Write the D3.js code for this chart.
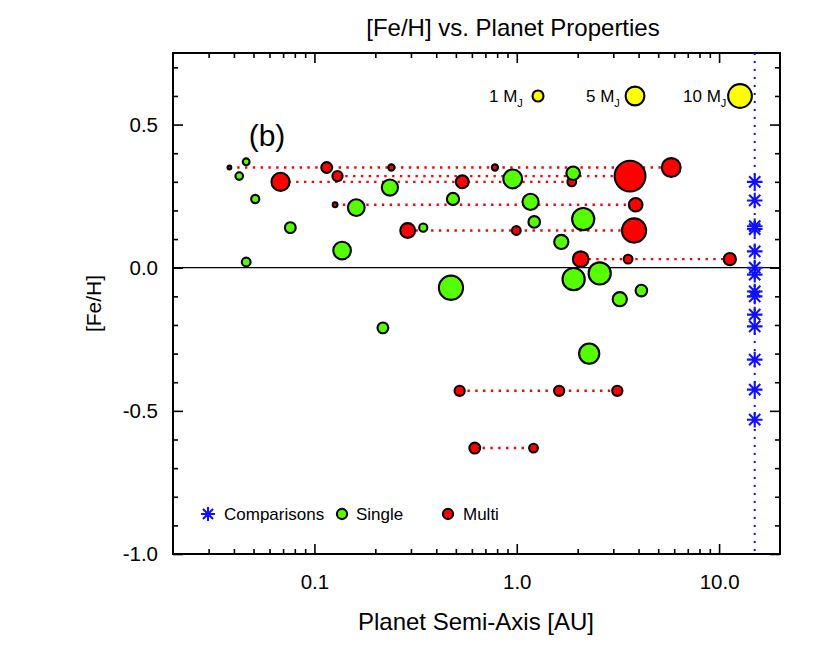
<!DOCTYPE html>
<html><head><meta charset="utf-8">
<script src="https://cdn.jsdelivr.net/npm/d3@7/dist/d3.min.js"></script>
<style>
body{margin:0;background:#fff;}
text{font-family:"Liberation Sans",Arial,Helvetica,sans-serif;fill:#000;}
</style>
</head><body>
<svg id="chart" width="830" height="664"></svg>
<script>
// ---------------- DATA ----------------
// Single-planet systems: semi-axis [AU], [Fe/H], mass [M_J]
const singleA    = [0.046, 0.0425, 0.051, 0.076, 0.046, 0.137, 0.161, 0.236, 0.345, 0.484, 0.473, 0.218, 0.955, 1.17, 1.22, 1.90, 2.13, 1.66, 1.91, 2.57, 3.23, 4.13, 2.28];
const singleFeH  = [0.37, 0.32, 0.24, 0.14, 0.02, 0.06, 0.21, 0.28, 0.14, 0.24, -0.07, -0.21, 0.31, 0.23, 0.16, 0.33, 0.17, 0.09, -0.04, -0.02, -0.11, -0.08, -0.30];
const singleMass = [0.24, 0.33, 0.41, 0.95, 0.51, 4.1, 3.56, 3.19, 0.41, 1.36, 10.6, 0.95, 5.0, 3.19, 1.17, 1.89, 8.2, 2.15, 8.2, 8.2, 2.15, 1.17, 6.2];

// Multi-planet systems: system id, semi-axis [AU], [Fe/H], mass [M_J]
const multiSystem = ["A","A","A","A","A", "B","B", "C","C","C", "D","D", "E","E","E", "F","F","F", "G","G","G", "H","H"];
const multiA      = [0.038, 0.115, 0.24, 0.78, 5.8,  0.13, 3.63,  0.068, 0.538, 1.87,  0.1265, 3.87,  0.289, 0.995, 3.80,  2.07, 3.55, 11.3,  0.522, 1.62, 3.14,  0.62, 1.21];
const multiFeH    = [0.35, 0.35, 0.35, 0.35, 0.35,  0.32, 0.32,  0.30, 0.30, 0.30,  0.22, 0.22,  0.13, 0.13, 0.13,  0.03, 0.03, 0.03,  -0.43, -0.43, -0.43,  -0.63, -0.63];
const multiMass   = [0.04, 0.95, 0.18, 0.18, 5.0,  0.80, 22,  4.5, 1.58, 0.51,  0.083, 1.89,  2.44, 0.51, 10.6,  2.85, 0.51, 1.36,  0.80, 0.80, 0.80,  0.95, 0.51];

// Comparison stars (plotted at a fixed semi-axis position)
const compA   = 15;
const compFeH = [0.30, 0.235, 0.145, 0.135, 0.057, 0.0, -0.024, -0.083, -0.10, -0.164, -0.205, -0.321, -0.426, -0.531];

// Axes
const xDomain = [0.02, 20];
const yDomain = [-1.0, 0.75];
const xMajorTicks  = [0.1, 1, 10];
const xMajorLabels = ["0.1", "1.0", "10.0"];
const yMajorTicks  = [-1.0, -0.5, 0.0, 0.5];
const yMajorLabels = ["-1.0", "-0.5", "0.0", "0.5"];

// Mass legend
const legendMass   = [1, 5, 10];
const legendLabels = ["1", "5", "10"];

// ---------------- LAYOUT ----------------
const svg = d3.select("#chart");
const L = 173, R = 780, T = 53, B = 554;
const x = d3.scaleLog().domain(xDomain).range([L, R]);
const y = d3.scaleLinear().domain(yDomain).range([B, T]);
const rScale = d3.scalePow().exponent(1/3).domain([0, 1]).range([0, 5.5]);

const GREEN = "#55ff00", RED = "#ff0000", YELLOW = "#ffff00", BLUE = "#1010ff";
const OUT = 2.1;

// minor ticks
const xMinor = [];
for (let dec = -2; dec <= 1; dec++) for (let k = 1; k <= 9; k++) {
  const v = k * Math.pow(10, dec);
  if (v > xDomain[0] && v < xDomain[1] && k !== 1) xMinor.push(v);
}
const yMinor = d3.range(-10, 8).map(d => d / 10).filter(v => !yMajorTicks.some(m => Math.abs(m - v) < 1e-9));

const tickFont = 20.5;
function styleAxis(g) { g.select(".domain").remove(); g.selectAll("line").attr("stroke", "#000").attr("stroke-width", 1.6); g.selectAll("text").attr("font-size", tickFont).attr("font-family", null); }

// bottom
svg.append("g").attr("transform", `translate(0,${B})`)
  .call(d3.axisBottom(x).tickValues(xMinor).tickSize(-5).tickFormat(""))
  .call(styleAxis);
svg.append("g").attr("transform", `translate(0,${B})`)
  .call(d3.axisBottom(x).tickValues(xMajorTicks).tickSize(-10).tickPadding(20)
    .tickFormat((d, i) => xMajorLabels[i]))
  .call(styleAxis);
// top
svg.append("g").attr("transform", `translate(0,${T})`)
  .call(d3.axisTop(x).tickValues(xMinor).tickSize(-5).tickFormat(""))
  .call(styleAxis);
svg.append("g").attr("transform", `translate(0,${T})`)
  .call(d3.axisTop(x).tickValues(xMajorTicks).tickSize(-10).tickFormat(""))
  .call(styleAxis);
// left
svg.append("g").attr("transform", `translate(${L},0)`)
  .call(d3.axisLeft(y).tickValues(yMinor).tickSize(-5).tickFormat(""))
  .call(styleAxis);
svg.append("g").attr("transform", `translate(${L},0)`)
  .call(d3.axisLeft(y).tickValues(yMajorTicks).tickSize(-10).tickPadding(15)
    .tickFormat((d, i) => yMajorLabels[i]))
  .call(styleAxis);
// right
svg.append("g").attr("transform", `translate(${R},0)`)
  .call(d3.axisRight(y).tickValues(yMinor).tickSize(-5).tickFormat(""))
  .call(styleAxis);
svg.append("g").attr("transform", `translate(${R},0)`)
  .call(d3.axisRight(y).tickValues(yMajorTicks).tickSize(-10).tickFormat(""))
  .call(styleAxis);

// frame
svg.append("rect").attr("x", L).attr("y", T).attr("width", R - L).attr("height", B - T)
  .attr("fill", "none").attr("stroke", "#000").attr("stroke-width", 2);

// zero line
svg.append("line").attr("x1", L).attr("x2", R).attr("y1", y(0)).attr("y2", y(0))
  .attr("stroke", "#000").attr("stroke-width", 1.2);

// comparison dotted vertical line
svg.append("line").attr("x1", x(compA)).attr("x2", x(compA)).attr("y1", T).attr("y2", B)
  .attr("stroke", BLUE).attr("stroke-width", 2).attr("stroke-dasharray", "2 6");

// multi system connecting lines
const multi = multiA.map((a, i) => ({a, feh: multiFeH[i], m: multiMass[i], s: multiSystem[i]}));
const systems = d3.groups(multi, d => d.s);
svg.append("g").selectAll("line").data(systems).join("line")
  .attr("x1", d => x(d3.min(d[1], p => p.a)))
  .attr("x2", d => x(d3.max(d[1], p => p.a)))
  .attr("y1", d => y(d[1][0].feh)).attr("y2", d => y(d[1][0].feh))
  .attr("stroke", RED).attr("stroke-width", 2.4).attr("stroke-dasharray", "2.4 5.4");

// multi planets
svg.append("g").selectAll("circle").data(multi).join("circle")
  .attr("cx", d => x(d.a)).attr("cy", d => y(d.feh)).attr("r", d => rScale(d.m))
  .attr("fill", RED).attr("stroke", "#000").attr("stroke-width", OUT);

// single planets
const single = singleA.map((a, i) => ({a, feh: singleFeH[i], m: singleMass[i]}));
svg.append("g").selectAll("circle").data(single).join("circle")
  .attr("cx", d => x(d.a)).attr("cy", d => y(d.feh)).attr("r", d => rScale(d.m))
  .attr("fill", GREEN).attr("stroke", "#000").attr("stroke-width", OUT);

// asterisk symbol
function asterisk(sel, h) {
  const dd = h * 0.72;
  sel.append("path").attr("d",
    `M0,${-h}V${h}M${-h},0H${h}M${-dd},${-dd}L${dd},${dd}M${-dd},${dd}L${dd},${-dd}`)
    .attr("stroke", BLUE).attr("stroke-width", 2.1).attr("fill", "none");
}
svg.append("g").selectAll("g").data(compFeH).join("g")
  .attr("transform", d => `translate(${x(compA)},${y(d)})`)
  .each(function() { asterisk(d3.select(this), 7.8); });

// ---------------- TEXT ----------------
svg.append("text").attr("x", 513).attr("y", 36).attr("text-anchor", "middle")
  .attr("font-size", 24).text("[Fe/H] vs. Planet Properties");
svg.append("text").attr("x", 476).attr("y", 630).attr("text-anchor", "middle")
  .attr("font-size", 24).text("Planet Semi-Axis [AU]");
svg.append("text").attr("transform", `translate(101,${(T + B) / 2}) rotate(-90)`)
  .attr("text-anchor", "middle").attr("font-size", 21).text("[Fe/H]");
svg.append("text").attr("x", 267).attr("y", 146).attr("text-anchor", "middle")
  .attr("font-size", 30).text("(b)");

// mass legend (top)
const legX = [538, 635, 740];
const legTextX = [489, 586, 683];
legendMass.forEach((m, i) => {
  const t = svg.append("text").attr("x", legTextX[i]).attr("y", 102).attr("font-size", 17);
  t.append("tspan").text(legendLabels[i] + " M");
  t.append("tspan").attr("font-size", 11).attr("dy", 5).text("J");
  svg.append("circle").attr("cx", legX[i]).attr("cy", 96).attr("r", rScale(m))
    .attr("fill", YELLOW).attr("stroke", "#000").attr("stroke-width", OUT);
});

// symbol legend (bottom)
const lg = svg.append("g");
asterisk(lg.append("g").attr("transform", "translate(208,514)"), 7);
lg.append("text").attr("x", 224).attr("y", 520).attr("font-size", 17).text("Comparisons");
lg.append("circle").attr("cx", 342).attr("cy", 514).attr("r", rScale(0.8))
  .attr("fill", GREEN).attr("stroke", "#000").attr("stroke-width", OUT);
lg.append("text").attr("x", 356).attr("y", 520).attr("font-size", 17).text("Single");
lg.append("circle").attr("cx", 448).attr("cy", 514).attr("r", rScale(0.8))
  .attr("fill", RED).attr("stroke", "#000").attr("stroke-width", OUT);
lg.append("text").attr("x", 463).attr("y", 520).attr("font-size", 17).text("Multi");
</script>
</body></html>
